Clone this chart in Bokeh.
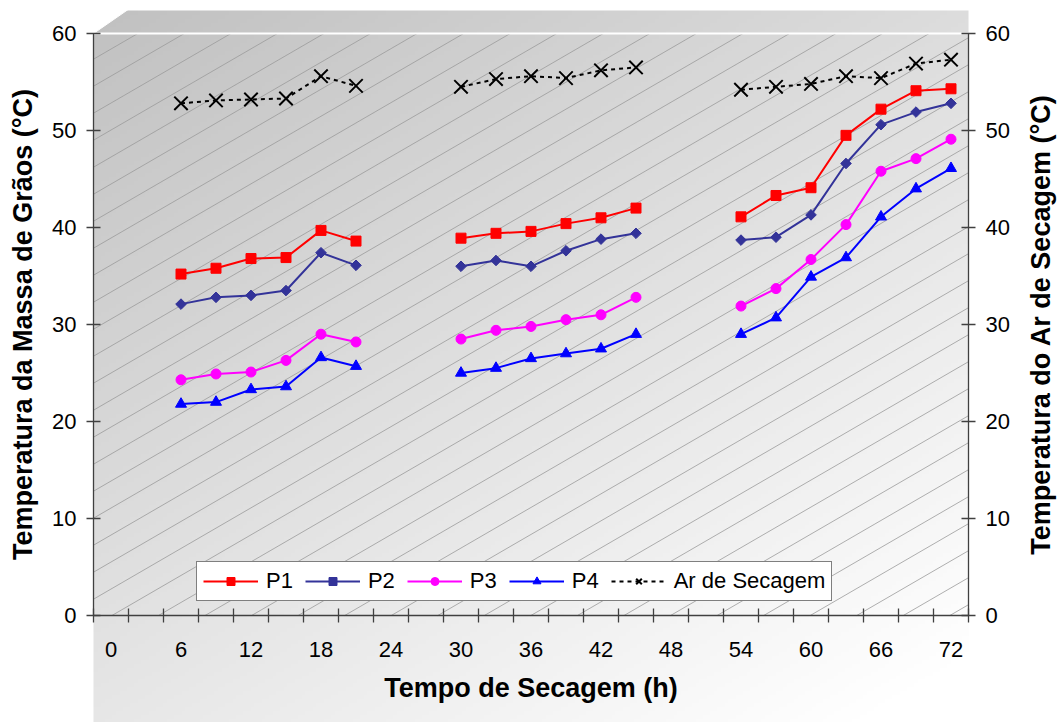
import numpy as np
from bokeh.plotting import figure
from bokeh.models import Range1d, LinearAxis, FixedTicker, Legend, LegendItem
from bokeh.core.properties import value
from bokeh.embed import file_html
from bokeh.resources import INLINE

# Drying time (h) of the three drying runs
hours_run1 = [6, 9, 12, 15, 18, 21]
hours_run2 = [30, 33, 36, 39, 42, 45]
hours_run3 = [54, 57, 60, 63, 66, 69, 72]

# Grain mass temperature (°C) at four positions
p1_vals = [35.2, 35.8, 36.8, 36.9, 39.7, 38.6,
           38.9, 39.4, 39.6, 40.4, 41.0, 42.0,
           41.1, 43.3, 44.1, 49.5, 52.2, 54.1, 54.3]
p2_vals = [32.1, 32.8, 33.0, 33.5, 37.4, 36.1,
           36.0, 36.6, 36.0, 37.6, 38.8, 39.4,
           38.7, 39.0, 41.3, 46.6, 50.6, 51.9, 52.8]
p3_vals = [24.3, 24.9, 25.1, 26.3, 29.0, 28.2,
           28.5, 29.4, 29.8, 30.5, 31.0, 32.8,
           31.9, 33.7, 36.7, 40.3, 45.8, 47.1, 49.1]
p4_vals = [21.8, 22.0, 23.3, 23.6, 26.6, 25.7,
           25.0, 25.5, 26.5, 27.0, 27.5, 29.0,
           29.0, 30.7, 34.9, 36.9, 41.1, 44.0, 46.1]
# Drying air temperature (°C), right axis
air_vals = [52.8, 53.1, 53.2, 53.3, 55.6, 54.6,
            54.5, 55.3, 55.6, 55.4, 56.2, 56.5,
            54.2, 54.5, 54.8, 55.6, 55.4, 56.9, 57.3]

x_tick_labels = [0, 6, 12, 18, 24, 30, 36, 42, 48, 54, 60, 66, 72]
y_ticks = [0, 10, 20, 30, 40, 50, 60]

FONT = "Liberation Sans"

# Insert NaN between runs so each run is drawn as its own line
runs = [hours_run1, hours_run2, hours_run3]


def with_gaps(values):
    out, i = [], 0
    for k, run in enumerate(runs):
        out.extend(values[i:i + len(run)])
        i += len(run)
        if k < len(runs) - 1:
            out.append(np.nan)
    return out


hours = with_gaps(hours_run1 + hours_run2 + hours_run3)

# Category-style x extent: half a step (1.5 h) beyond 0 and 72
X0, X1 = -1.5, 73.5
YMAX = 60
W_PX, H_PX = 1063, 722
LEFT, RIGHT, TOP, BOTTOM = 93, 968, 33, 615       # plot-area edges on the canvas
PX_X = (RIGHT - LEFT) / (X1 - X0)
PX_Y = (BOTTOM - TOP) / YMAX

# The frame covers the whole canvas; axes are pinned to the plot-area edges
x_range = Range1d(X0 - LEFT / PX_X, X1 + (W_PX - RIGHT) / PX_X)
y_range = Range1d(-(H_PX - BOTTOM) / PX_Y, YMAX + TOP / PX_Y)
Y_BOT = y_range.start
Y_TOP = YMAX + (TOP - 10) / PX_Y                    # top of the bevelled top face

p = figure(width=W_PX, height=H_PX, x_range=x_range, y_range=y_range,
           output_backend="svg", toolbar_location=None,
           x_axis_type=None, y_axis_type=None, min_border=0,
           outline_line_color=None, background_fill_color="white", border_fill_color="white")
p.xgrid.visible = False
p.ygrid.visible = False

# Diagonal grey gradient behind the plot area, its top face and floor
H, W = 180, 240
u = (np.arange(W) + 0.5) / W
w_top = 1.0 - (np.arange(H) + 0.5) / H
gray = 0.755 + 0.11 * u[None, :] + 0.15 * w_top[:, None]
gray = (np.clip(gray, 0, 1) * 255).astype(np.uint8)
img = np.empty((H, W), dtype=np.uint32)
view = img.view(dtype=np.uint8).reshape((H, W, 4))
view[..., 0] = gray
view[..., 1] = gray
view[..., 2] = gray
view[..., 3] = 255
p.image_rgba(image=[img], x=X0, y=Y_BOT, dw=X1 - X0, dh=Y_TOP - Y_BOT, level="image")

# Bevelled top-left corner of the top face
p.patch([X0, X0, X0 + 36 / PX_X], [YMAX, Y_TOP + 0.2, Y_TOP + 0.2],
        fill_color="white", line_color="white", line_width=1, level="underlay")

# Thin diagonal hatching over the plot area
m = 0.58 * PX_X / PX_Y
step = 27 / PX_Y
hx, hy = [], []
for c in np.arange(-m * (X1 - X0) + 0.4 * step, YMAX, step):
    xa = max(X0, X0 + (0 - c) / m)
    xb = min(X1, X0 + (YMAX - c) / m)
    if xb > xa:
        hx.append([xa, xb])
        hy.append([c + m * (xa - X0), c + m * (xb - X0)])
p.multi_line(hx, hy, line_color="#9a9a9a", line_width=0.8, level="underlay")

# White edge between the top face and the plot area
p.line([X0, X1], [YMAX, YMAX], line_color="white", line_width=2, level="underlay")

# Series
l1 = p.line(hours, with_gaps(p1_vals), line_color="#FF0000", line_width=2)
s1 = p.scatter(hours, with_gaps(p1_vals), marker="square", size=10,
               fill_color="#FF0000", line_color="#FF0000")
l2 = p.line(hours, with_gaps(p2_vals), line_color="#333399", line_width=2)
s2 = p.scatter(hours, with_gaps(p2_vals), marker="square", size=7.5, angle=np.pi / 4,
               fill_color="#333399", line_color="#333399")
l3 = p.line(hours, with_gaps(p3_vals), line_color="#FF00FF", line_width=2)
s3 = p.scatter(hours, with_gaps(p3_vals), marker="circle", size=10,
               fill_color="#FF00FF", line_color="#FF00FF")
l4 = p.line(hours, with_gaps(p4_vals), line_color="#0000FF", line_width=2)
s4 = p.scatter(hours, with_gaps(p4_vals), marker="triangle", size=11,
               fill_color="#0000FF", line_color="#0000FF")
l5 = p.line(hours, with_gaps(air_vals), line_color="black", line_width=2, line_dash="4 4")
s5 = p.scatter(hours, with_gaps(air_vals), marker="x", size=19,
               line_color="black", line_width=2)

AXIS_COLOR = "#404040"

# x axis at y = 0, labels centred on categories, tick marks on category edges
xaxis = LinearAxis(fixed_location=0, bounds=(X0, X1),
                   ticker=FixedTicker(ticks=x_tick_labels,
                                      minor_ticks=list(np.arange(X0, X1 + 0.01, 3.0))),
                   axis_label="Tempo de Secagem (h)")
xaxis.axis_line_color = AXIS_COLOR
xaxis.axis_line_width = 1.3
xaxis.major_tick_in = 0
xaxis.major_tick_out = 0
xaxis.minor_tick_in = 7
xaxis.minor_tick_out = 7
xaxis.minor_tick_line_color = AXIS_COLOR
xaxis.minor_tick_line_width = 1.3
xaxis.major_label_standoff = 19
xaxis.axis_label_standoff = 13
p.add_layout(xaxis, "below")


def style_y(ax):
    ax.ticker = FixedTicker(ticks=y_ticks, minor_ticks=[])
    ax.bounds = (0, YMAX)
    ax.axis_line_color = AXIS_COLOR
    ax.axis_line_width = 1.3
    ax.major_tick_line_color = AXIS_COLOR
    ax.major_tick_line_width = 1.3
    ax.major_tick_in = 7
    ax.major_tick_out = 7
    ax.minor_tick_line_color = None
    ax.major_label_standoff = 10


yleft = LinearAxis(fixed_location=X0)
style_y(yleft)
p.add_layout(yleft, "left")
yright = LinearAxis(fixed_location=X1)
style_y(yright)
p.add_layout(yright, "right")

for ax in (xaxis, yleft, yright):
    ax.major_label_text_font = FONT
    ax.major_label_text_font_size = "22px"
    ax.major_label_text_color = "black"
    ax.axis_label_text_font = FONT
    ax.axis_label_text_font_size = "27px"
    ax.axis_label_text_font_style = "bold"
    ax.axis_label_text_color = "black"

# Vertical axis titles, both reading bottom to top, centred on the 0-60 span
p.text(x=[X0 - 71 / PX_X, X0 + (1040 - LEFT) / PX_X], y=[YMAX / 2, YMAX / 2],
       text=["Temperatura da Massa de Grãos (°C)", "Temperatura do Ar de Secagem (°C)"],
       angle=np.pi / 2, text_align="center", text_baseline="middle",
       text_font=value(FONT), text_font_size="27px", text_font_style="bold",
       text_color="black")

legend = Legend(items=[
    LegendItem(label="P1", renderers=[l1, s1]),
    LegendItem(label="P2", renderers=[l2, s2]),
    LegendItem(label="P3", renderers=[l3, s3]),
    LegendItem(label="P4", renderers=[l4, s4]),
    LegendItem(label="Ar de Secagem", renderers=[l5, s5]),
], location=(196, 121), orientation="horizontal")
legend.label_text_font = FONT
legend.label_text_font_size = "22px"
legend.label_text_color = "black"
legend.glyph_width = 55
legend.glyph_height = 20
legend.label_standoff = 8
legend.spacing = 12
legend.padding = 6
legend.margin = 0
legend.border_line_color = "black"
legend.border_line_width = 1
legend.background_fill_color = "white"
legend.background_fill_alpha = 1
p.add_layout(legend, "center")

open("out.html", "w").write(file_html(p, INLINE))
